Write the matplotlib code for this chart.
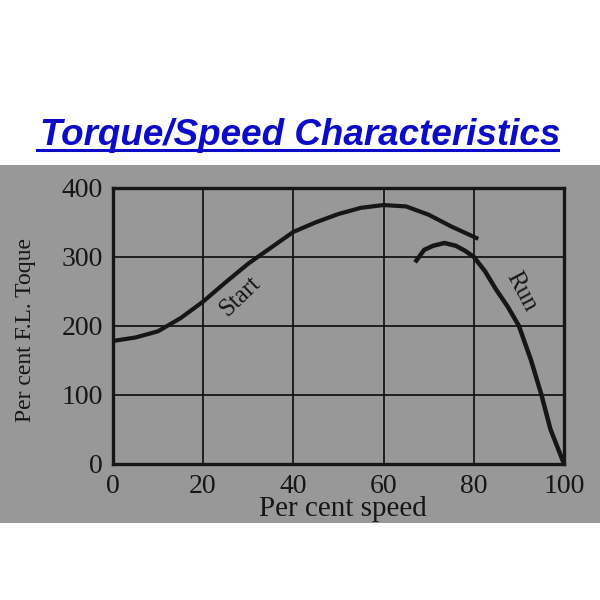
import matplotlib.pyplot as plt
from matplotlib.patches import Rectangle
from matplotlib.lines import Line2D

# data
start_x = [0, 5, 10, 15, 20, 25, 30, 35, 40, 45, 50, 55, 60, 65, 70, 75, 81]
start_y = [178, 183, 192, 211, 235, 263, 290, 313, 336, 350, 362, 371, 375, 373, 361, 344, 326]
run_x = [67, 69, 71, 73.5, 76, 78, 80, 82.5, 85, 87.5, 90, 92.7, 95, 97, 100]
run_y = [292, 310, 316, 320, 316, 309, 300, 279, 252, 228, 200, 150, 100, 50, 0]
xticks = [0, 20, 40, 60, 80, 100]
yticks = [0, 100, 200, 300, 400]

grey = '#989898'
ink = '#161616'
serif = 'Liberation Serif'

fig = plt.figure(figsize=(6, 6), dpi=100)
fig.patches.append(Rectangle((0, 0.128), 1, 0.597, transform=fig.transFigure,
                             facecolor=grey, edgecolor='none', zorder=-10))

ax = fig.add_axes([0.188, 0.227, 0.752, 0.46])
ax.set_facecolor(grey)
ax.plot(start_x, start_y, color=ink, linewidth=3.0, solid_capstyle='butt')
ax.plot(run_x, run_y, color=ink, linewidth=3.2, solid_capstyle='butt', clip_on=False)
ax.set_xlim(0, 100)
ax.set_ylim(0, 400)
ax.set_xticks(xticks)
ax.set_yticks(yticks)
ax.grid(True, color=ink, linewidth=1.3)
for s in ax.spines.values():
    s.set_linewidth(2.4)
    s.set_color(ink)
ax.tick_params(length=0, pad=7, labelsize=20, labelcolor=ink)
for lab in ax.get_xticklabels() + ax.get_yticklabels():
    lab.set_fontfamily(serif)
ax.set_xlabel('Per cent speed', fontsize=21, family=serif, color=ink)
ax.xaxis.label.set_va('baseline')
ax.xaxis.set_label_coords(0.511, -0.19)
ax.set_ylabel('Per cent F.L. Toque', fontsize=17, family=serif, color=ink)
ax.yaxis.set_label_coords(-0.17, 0.485)

ax.text(28.2, 243, 'Start', rotation=44, fontsize=18, family=serif, color=ink,
        ha='center', va='center')
ax.text(90.5, 249, 'Run', rotation=-62, fontsize=18, family=serif, color=ink,
        ha='center', va='center')

title = fig.text(0.5, 0.758, 'Torque/Speed Characteristics', ha='center', va='baseline',
                 fontsize=26.5, fontweight='bold', fontstyle='italic',
                 family='Liberation Sans', color='#0b0bc8')
fig.canvas.draw()
bb = title.get_window_extent().transformed(fig.transFigure.inverted())
fig.lines.append(Line2D([bb.x0 - 0.004, bb.x1 - 0.004], [0.75, 0.75],
                        transform=fig.transFigure, color='#0b0bc8', linewidth=2.2))

fig.savefig('out.png', dpi=100)
